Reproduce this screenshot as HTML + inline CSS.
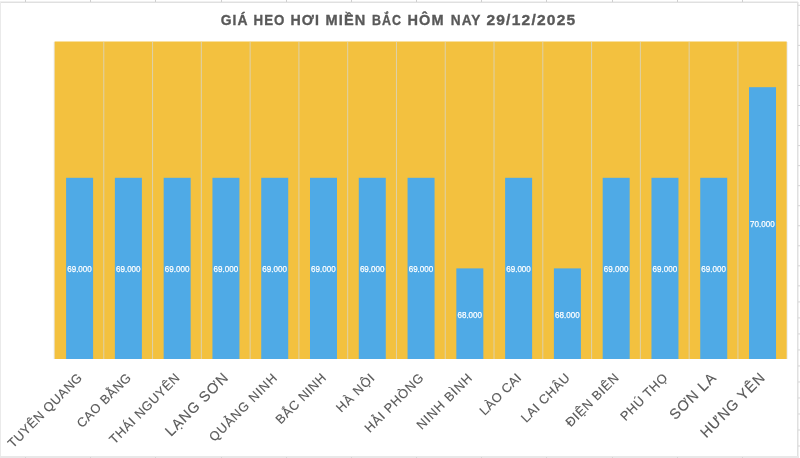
<!DOCTYPE html>
<html><head><meta charset="utf-8"><style>
html,body{margin:0;padding:0;width:800px;height:458px;overflow:hidden;background:#fff}
svg{display:block;will-change:transform}
text{font-family:"Liberation Sans",sans-serif}
.dl{font-size:9.6px;fill:#fff;stroke:#fff;stroke-width:0.25px}
.cl{font-size:12.8px;fill:#595959;stroke:#595959;stroke-width:0.15px}
.cl.big{font-size:14.5px}
.title{font-size:15.5px;font-weight:bold;fill:#595959;stroke:#595959;stroke-width:0.35px;letter-spacing:1.2px}
</style></head><body>
<svg width="800" height="458" viewBox="0 0 800 458">
<rect x="0" y="0" width="800" height="458" fill="#fff"/>
<rect x="0" y="2" width="798" height="1" fill="#E0E0E0"/>
<rect x="0" y="1" width="798" height="1" fill="#F0F0F0"/>
<rect x="0" y="2" width="1" height="455" fill="#EAEAEA"/>
<rect x="797" y="2" width="1" height="455" fill="#E0E0E0"/>
<rect x="798" y="2" width="1" height="455" fill="#EFEFEF"/>
<rect x="0" y="456" width="799" height="2" fill="#E8E8E8"/>
<rect x="25" y="0" width="1" height="2" fill="#CFCFCF"/><rect x="25" y="457" width="1" height="1" fill="#D4D4D4"/>
<rect x="90" y="0" width="1" height="2" fill="#CFCFCF"/><rect x="90" y="457" width="1" height="1" fill="#D4D4D4"/>
<rect x="155" y="0" width="1" height="2" fill="#CFCFCF"/><rect x="155" y="457" width="1" height="1" fill="#D4D4D4"/>
<rect x="221" y="0" width="1" height="2" fill="#CFCFCF"/><rect x="221" y="457" width="1" height="1" fill="#D4D4D4"/>
<rect x="286" y="0" width="1" height="2" fill="#CFCFCF"/><rect x="286" y="457" width="1" height="1" fill="#D4D4D4"/>
<rect x="351" y="0" width="1" height="2" fill="#CFCFCF"/><rect x="351" y="457" width="1" height="1" fill="#D4D4D4"/>
<rect x="416" y="0" width="1" height="2" fill="#CFCFCF"/><rect x="416" y="457" width="1" height="1" fill="#D4D4D4"/>
<rect x="481" y="0" width="1" height="2" fill="#CFCFCF"/><rect x="481" y="457" width="1" height="1" fill="#D4D4D4"/>
<rect x="546" y="0" width="1" height="2" fill="#CFCFCF"/><rect x="546" y="457" width="1" height="1" fill="#D4D4D4"/>
<rect x="612" y="0" width="1" height="2" fill="#CFCFCF"/><rect x="612" y="457" width="1" height="1" fill="#D4D4D4"/>
<rect x="677" y="0" width="1" height="2" fill="#CFCFCF"/><rect x="677" y="457" width="1" height="1" fill="#D4D4D4"/>
<rect x="742" y="0" width="1" height="2" fill="#CFCFCF"/><rect x="742" y="457" width="1" height="1" fill="#D4D4D4"/>
<rect x="798" y="4.80" width="2" height="1" fill="#D6D6D6"/>
<rect x="798" y="24.84" width="2" height="1" fill="#D6D6D6"/>
<rect x="798" y="44.88" width="2" height="1" fill="#D6D6D6"/>
<rect x="798" y="64.92" width="2" height="1" fill="#D6D6D6"/>
<rect x="798" y="84.96" width="2" height="1" fill="#D6D6D6"/>
<rect x="798" y="105.00" width="2" height="1" fill="#D6D6D6"/>
<rect x="798" y="125.04" width="2" height="1" fill="#D6D6D6"/>
<rect x="798" y="145.08" width="2" height="1" fill="#D6D6D6"/>
<rect x="798" y="165.12" width="2" height="1" fill="#D6D6D6"/>
<rect x="798" y="185.16" width="2" height="1" fill="#D6D6D6"/>
<rect x="798" y="205.20" width="2" height="1" fill="#D6D6D6"/>
<rect x="798" y="225.24" width="2" height="1" fill="#D6D6D6"/>
<rect x="798" y="245.28" width="2" height="1" fill="#D6D6D6"/>
<rect x="798" y="265.32" width="2" height="1" fill="#D6D6D6"/>
<rect x="798" y="285.36" width="2" height="1" fill="#D6D6D6"/>
<rect x="798" y="301.41" width="2" height="1" fill="#D6D6D6"/>
<rect x="798" y="317.42" width="2" height="1" fill="#D6D6D6"/>
<rect x="798" y="333.43" width="2" height="1" fill="#D6D6D6"/>
<rect x="798" y="349.44" width="2" height="1" fill="#D6D6D6"/>
<rect x="798" y="365.45" width="2" height="1" fill="#D6D6D6"/>
<rect x="798" y="381.46" width="2" height="1" fill="#D6D6D6"/>
<rect x="798" y="397.47" width="2" height="1" fill="#D6D6D6"/>
<rect x="798" y="413.48" width="2" height="1" fill="#D6D6D6"/>
<rect x="798" y="429.49" width="2" height="1" fill="#D6D6D6"/>
<rect x="798" y="445.50" width="2" height="1" fill="#D6D6D6"/>
<rect x="53.6" y="42.0" width="734.10" height="317.0" fill="#E9ECF0"/>
<rect x="54.6" y="41.5" width="732.10" height="317.5" fill="#F3C13F"/>
<rect x="103.28" y="42.0" width="1" height="317.0" fill="#DDD1AB"/>
<rect x="152.06" y="42.0" width="1" height="317.0" fill="#DDD1AB"/>
<rect x="200.84" y="42.0" width="1" height="317.0" fill="#DDD1AB"/>
<rect x="249.62" y="42.0" width="1" height="317.0" fill="#DDD1AB"/>
<rect x="298.40" y="42.0" width="1" height="317.0" fill="#DDD1AB"/>
<rect x="347.18" y="42.0" width="1" height="317.0" fill="#DDD1AB"/>
<rect x="395.96" y="42.0" width="1" height="317.0" fill="#DDD1AB"/>
<rect x="444.74" y="42.0" width="1" height="317.0" fill="#DDD1AB"/>
<rect x="493.52" y="42.0" width="1" height="317.0" fill="#DDD1AB"/>
<rect x="542.30" y="42.0" width="1" height="317.0" fill="#DDD1AB"/>
<rect x="591.08" y="42.0" width="1" height="317.0" fill="#DDD1AB"/>
<rect x="639.86" y="42.0" width="1" height="317.0" fill="#DDD1AB"/>
<rect x="688.64" y="42.0" width="1" height="317.0" fill="#DDD1AB"/>
<rect x="737.42" y="42.0" width="1" height="317.0" fill="#DDD1AB"/>
<rect x="66.10" y="177.80" width="27.0" height="181.20" fill="#4FAAE6"/>
<text x="67.20" y="272.30" class="dl" textLength="24.6" lengthAdjust="spacingAndGlyphs">69.000</text>
<rect x="114.88" y="177.80" width="27.0" height="181.20" fill="#4FAAE6"/>
<text x="115.98" y="272.30" class="dl" textLength="24.6" lengthAdjust="spacingAndGlyphs">69.000</text>
<rect x="163.66" y="177.80" width="27.0" height="181.20" fill="#4FAAE6"/>
<text x="164.76" y="272.30" class="dl" textLength="24.6" lengthAdjust="spacingAndGlyphs">69.000</text>
<rect x="212.44" y="177.80" width="27.0" height="181.20" fill="#4FAAE6"/>
<text x="213.54" y="272.30" class="dl" textLength="24.6" lengthAdjust="spacingAndGlyphs">69.000</text>
<rect x="261.22" y="177.80" width="27.0" height="181.20" fill="#4FAAE6"/>
<text x="262.32" y="272.30" class="dl" textLength="24.6" lengthAdjust="spacingAndGlyphs">69.000</text>
<rect x="310.00" y="177.80" width="27.0" height="181.20" fill="#4FAAE6"/>
<text x="311.10" y="272.30" class="dl" textLength="24.6" lengthAdjust="spacingAndGlyphs">69.000</text>
<rect x="358.78" y="177.80" width="27.0" height="181.20" fill="#4FAAE6"/>
<text x="359.88" y="272.30" class="dl" textLength="24.6" lengthAdjust="spacingAndGlyphs">69.000</text>
<rect x="407.56" y="177.80" width="27.0" height="181.20" fill="#4FAAE6"/>
<text x="408.66" y="272.30" class="dl" textLength="24.6" lengthAdjust="spacingAndGlyphs">69.000</text>
<rect x="456.34" y="268.40" width="27.0" height="90.60" fill="#4FAAE6"/>
<text x="457.44" y="317.60" class="dl" textLength="24.6" lengthAdjust="spacingAndGlyphs">68.000</text>
<rect x="505.12" y="177.80" width="27.0" height="181.20" fill="#4FAAE6"/>
<text x="506.22" y="272.30" class="dl" textLength="24.6" lengthAdjust="spacingAndGlyphs">69.000</text>
<rect x="553.90" y="268.40" width="27.0" height="90.60" fill="#4FAAE6"/>
<text x="555.00" y="317.60" class="dl" textLength="24.6" lengthAdjust="spacingAndGlyphs">68.000</text>
<rect x="602.68" y="177.80" width="27.0" height="181.20" fill="#4FAAE6"/>
<text x="603.78" y="272.30" class="dl" textLength="24.6" lengthAdjust="spacingAndGlyphs">69.000</text>
<rect x="651.46" y="177.80" width="27.0" height="181.20" fill="#4FAAE6"/>
<text x="652.56" y="272.30" class="dl" textLength="24.6" lengthAdjust="spacingAndGlyphs">69.000</text>
<rect x="700.24" y="177.80" width="27.0" height="181.20" fill="#4FAAE6"/>
<text x="701.34" y="272.30" class="dl" textLength="24.6" lengthAdjust="spacingAndGlyphs">69.000</text>
<rect x="749.02" y="87.20" width="27.0" height="271.80" fill="#4FAAE6"/>
<text x="750.12" y="227.00" class="dl" textLength="24.6" lengthAdjust="spacingAndGlyphs">70.000</text>
<text x="0" y="0" class="cl" text-anchor="end" style="letter-spacing:0.485px" transform="translate(76.89 372.0) rotate(-45) translate(0 9)">TUYÊN QUANG</text>
<text x="0" y="0" class="cl" text-anchor="end" style="letter-spacing:0.411px" transform="translate(125.67 372.0) rotate(-45) translate(0 9)">CAO BẰNG</text>
<text x="0" y="0" class="cl" text-anchor="end" style="letter-spacing:0.570px" transform="translate(174.45 372.0) rotate(-45) translate(0 9)">THÁI NGUYÊN</text>
<text x="0" y="0" class="cl big" text-anchor="end" style="letter-spacing:0.831px" transform="translate(223.23 372.0) rotate(-45) translate(0 9)">LẠNG SƠN</text>
<text x="0" y="0" class="cl" text-anchor="end" style="letter-spacing:0.875px" transform="translate(272.01 372.0) rotate(-45) translate(0 9)">QUẢNG NINH</text>
<text x="0" y="0" class="cl" text-anchor="end" style="letter-spacing:0.553px" transform="translate(320.79 372.0) rotate(-45) translate(0 9)">BẮC NINH</text>
<text x="0" y="0" class="cl" text-anchor="end" style="letter-spacing:0.821px" transform="translate(369.57 372.0) rotate(-45) translate(0 9)">HÀ NỘI</text>
<text x="0" y="0" class="cl" text-anchor="end" style="letter-spacing:0.645px" transform="translate(418.35 372.0) rotate(-45) translate(0 9)">HẢI PHÒNG</text>
<text x="0" y="0" class="cl" text-anchor="end" style="letter-spacing:0.875px" transform="translate(467.13 372.0) rotate(-45) translate(0 9)">NINH BÌNH</text>
<text x="0" y="0" class="cl" text-anchor="end" style="letter-spacing:0.382px" transform="translate(515.91 372.0) rotate(-45) translate(0 9)">LÀO CAI</text>
<text x="0" y="0" class="cl" text-anchor="end" style="letter-spacing:0.553px" transform="translate(564.69 372.0) rotate(-45) translate(0 9)">LAI CHÂU</text>
<text x="0" y="0" class="cl" text-anchor="end" style="letter-spacing:0.592px" transform="translate(613.47 372.0) rotate(-45) translate(0 9)">ĐIỆN BIÊN</text>
<text x="0" y="0" class="cl" text-anchor="end" style="letter-spacing:0.535px" transform="translate(662.25 372.0) rotate(-45) translate(0 9)">PHÚ THỌ</text>
<text x="0" y="0" class="cl big" text-anchor="end" style="letter-spacing:0.896px" transform="translate(711.03 372.0) rotate(-45) translate(0 9)">SƠN LA</text>
<text x="0" y="0" class="cl big" text-anchor="end" style="letter-spacing:0.841px" transform="translate(759.81 372.0) rotate(-45) translate(0 9)">HƯNG YÊN</text>
<text x="220.75" y="24.5" class="title" textLength="27.90" lengthAdjust="spacingAndGlyphs">GIÁ</text>
<text x="253.50" y="24.5" class="title" textLength="31.90" lengthAdjust="spacingAndGlyphs">HEO</text>
<text x="290.40" y="24.5" class="title" textLength="29.60" lengthAdjust="spacingAndGlyphs">HƠI</text>
<text x="325.60" y="24.5" class="title" textLength="40.90" lengthAdjust="spacingAndGlyphs">MIỀN</text>
<text x="372.10" y="24.5" class="title" textLength="29.80" lengthAdjust="spacingAndGlyphs">BẮC</text>
<text x="407.50" y="24.5" class="title" textLength="37.20" lengthAdjust="spacingAndGlyphs">HÔM</text>
<text x="450.75" y="24.5" class="title" textLength="30.75" lengthAdjust="spacingAndGlyphs">NAY</text>
<text x="486.40" y="24.5" class="title" textLength="90.00" lengthAdjust="spacingAndGlyphs">29/12/2025</text>
</svg>
</body></html>
